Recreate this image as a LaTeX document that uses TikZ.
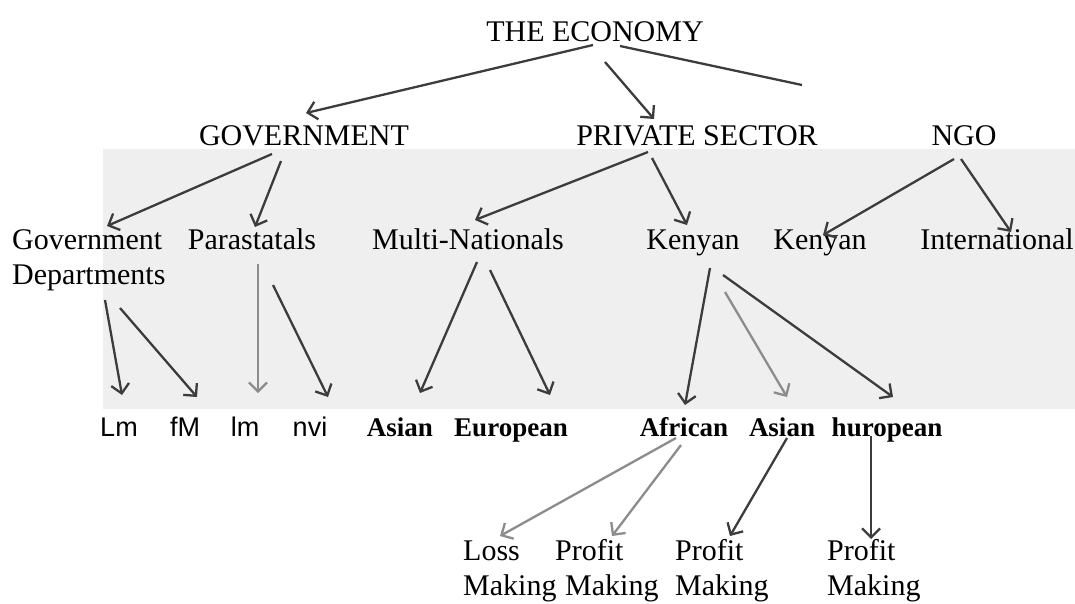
\documentclass[tikz,border=0pt]{standalone}
\usepackage{fontspec}
\setmainfont{Liberation Serif}
\newfontfamily\sansf{Liberation Sans}
\usetikzlibrary{arrows.meta,calc}
\definecolor{darkline}{HTML}{3C3C3C}
\definecolor{lightline}{HTML}{8C8C8C}
\definecolor{scan}{HTML}{EFEFEF}
\begin{document}
\begin{tikzpicture}[x=1pt,y=-1pt,
  lab/.style={font=\fontsize{30}{34}\selectfont, inner sep=0pt, anchor=base},
  ml/.style={font=\fontsize{30}{35}\selectfont, inner sep=0pt, anchor=base west, align=left},
  bl/.style={font=\fontsize{27}{30}\selectfont\bfseries, inner sep=0pt, anchor=base},
  sl/.style={font=\fontsize{27}{30}\sansf, inner sep=0pt, anchor=base},
  arr/.style={draw=darkline, line width=2.3pt, -{Straight Barb[length=9pt,width=18pt]}},
  arrl/.style={arr, draw=lightline},
  plain/.style={draw=darkline, line width=2.3pt},
]
\useasboundingbox (0,0) rectangle (1075,603);
\fill[scan] (103,149) rectangle (1075,409);

% level 0
\node[lab] (eco) at (595,41) {THE ECONOMY};
% level 1
\node[lab] (gov) at (304,145) {GOVERNMENT};
\node[lab] (priv) at (697,145) {PRIVATE SECTOR};
\node[lab] (ngo) at (964,145) {NGO};
% level 2 (multi-line nodes: base = last line)
\node[ml] (dept) at (12,284) {Government\\Departments};
\node[lab] (para) at (252,249) {Parastatals};
\node[lab] (multi) at (468,249) {Multi-Nationals};
\node[lab] (ken1) at (693,249) {Kenyan};
\node[lab] (ken2) at (820,249) {Kenyan};
\node[lab] (intl) at (997,249) {International};
% level 3
\node[sl] (lmA) at (119,436) {Lm};
\node[sl] (fm) at (185,436) {fM};
\node[sl] (lmB) at (245,436) {lm};
\node[sl] (nvi) at (310,436) {nvi};
\node[bl] (asianA) at (400,436) {Asian};
\node[bl] (euro) at (511,436) {European};
\node[bl] (afr) at (684,436) {African};
\node[bl] (asianB) at (782,436) {Asian};
\node[bl] (hur) at (887,436) {huropean};
% level 4
\node[ml] (loss) at (463,595) {Loss\\Making};
\node[ml] (profA) at (555,595) {Profit\\\hspace*{10pt}Making};
\node[ml] (profB) at (675,595) {Profit\\Making};
\node[ml] (profC) at (827,595) {Profit\\Making};

\coordinate (ngocut) at (802,85);

% connectors level 0 -> 1
\draw[arr] ($(eco.base)+(-2,4)$) -- ($(gov.base)+(2,-32)$);
\draw[arr] ($(eco.base)+(10,21)$) -- ($(priv.base)+(-43,-26)$);
\draw[plain] ($(eco.base)+(25,5)$) -- (ngocut);
% level 1 -> 2
\draw[arr] ($(gov.base)+(-32,9)$) -- ($(dept.base west)+(95,-58)$);
\draw[arr] ($(gov.base)+(-23,16)$) -- ($(para.base)+(3,-22)$);
\draw[arr] ($(priv.base)+(-49,7)$) -- ($(multi.base)+(7,-29)$);
\draw[arr] ($(priv.base)+(-45,13)$) -- ($(ken1.base)+(-6,-24)$);
\draw[arr] ($(ngo.base)+(-10,14)$) -- ($(ken2.base)+(3,-14)$);
\draw[arr] ($(ngo.base)+(-3,14)$) -- ($(intl.base)+(14,-17)$);
% level 2 -> 3
\draw[arr] ($(dept.base west)+(93,16)$) -- ($(lmA.base)+(3,-41)$);
\draw[arr] ($(dept.base west)+(108,24)$) -- ($(fm.base)+(12,-39)$);
\draw[arrl] ($(para.base)+(6,15)$) -- ($(lmB.base)+(13,-43)$);
\draw[arr] ($(para.base)+(21,36)$) -- ($(nvi.base)+(18,-39)$);
\draw[arr] ($(multi.base)+(9,13)$) -- ($(asianA.base)+(20,-43)$);
\draw[arr] ($(multi.base)+(22,21)$) -- ($(euro.base)+(39,-41)$);
\draw[arr] ($(ken1.base)+(17,19)$) -- ($(afr.base)+(1,-31)$);
\draw[arrl] ($(ken1.base)+(32,43)$) -- ($(asianB.base)+(5,-39)$);
\draw[arr] ($(ken1.base)+(30,26)$) -- ($(hur.base)+(6,-39)$);
% level 3 -> 4
\draw[arrl] ($(afr.base)+(-8,2)$) -- ($(loss.base west)+(37,-59)$);
\draw[arrl] ($(afr.base)+(-3,9)$) -- ($(profA.base west)+(57,-59)$);
\draw[arr] ($(asianB.base)+(5,2)$) -- ($(profB.base west)+(55,-59)$);
\draw[arr] ($(hur.base)+(-16,0)$) -- ($(profC.base west)+(44,-56)$);
\end{tikzpicture}
\end{document}
